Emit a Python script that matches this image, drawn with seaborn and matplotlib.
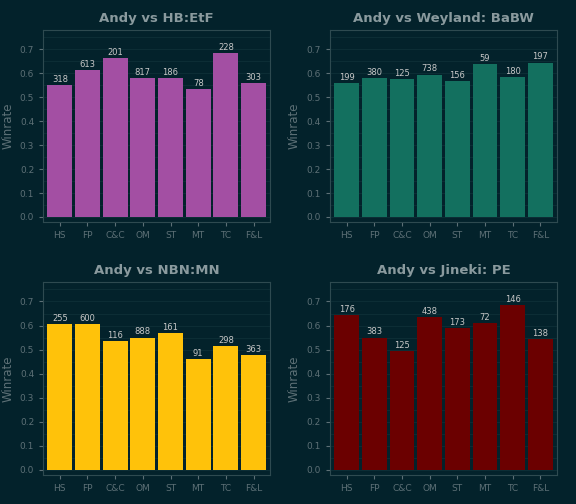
import numpy as np
import pandas as pd
import matplotlib
matplotlib.use("Agg")
from matplotlib import pyplot as plt
import seaborn as sns

factions = ["HS", "FP", "C&C", "OM", "ST", "MT", "TC", "F&L"]
titles = ["Andy vs HB:EtF", "Andy vs Weyland: BaBW", "Andy vs NBN:MN", "Andy vs Jineki: PE"]
colors = ["#a34fa3", "#13705f", "#ffc20a", "#6b0000"]
winrate_hb = [0.55, 0.615, 0.665, 0.58, 0.58, 0.535, 0.685, 0.56]
winrate_wey = [0.56, 0.58, 0.575, 0.595, 0.568, 0.64, 0.585, 0.645]
winrate_nbn = [0.605, 0.605, 0.535, 0.55, 0.568, 0.46, 0.515, 0.478]
winrate_jin = [0.645, 0.55, 0.495, 0.635, 0.59, 0.61, 0.685, 0.545]
games_hb = [318, 613, 201, 817, 186, 78, 228, 303]
games_wey = [199, 380, 125, 738, 156, 59, 180, 197]
games_nbn = [255, 600, 116, 888, 161, 91, 298, 363]
games_jin = [176, 383, 125, 438, 173, 72, 146, 138]

winrates = [winrate_hb, winrate_wey, winrate_nbn, winrate_jin]
games = [games_hb, games_wey, games_nbn, games_jin]

bg = "#03222b"
fg = "#5d7076"
plt.rcParams.update({"figure.facecolor": bg, "axes.facecolor": bg, "savefig.facecolor": bg})

fig = plt.figure(figsize=(5.76, 5.04), dpi=100)
rects = [
    [0.075, 0.56, 0.394, 0.38],
    [0.573, 0.56, 0.394, 0.38],
    [0.075, 0.058, 0.394, 0.382],
    [0.573, 0.058, 0.394, 0.382],
]
for rect, title, col, wr, n in zip(rects, titles, colors, winrates, games):
    ax = fig.add_axes(rect)
    df = pd.DataFrame({"faction": factions, "winrate": wr})
    sns.barplot(data=df, x="faction", y="winrate", color=col, width=0.9, saturation=1, ax=ax)
    for i, (w, g) in enumerate(zip(wr, n)):
        ax.text(i, w + 0.005, str(g), ha="center", va="bottom", fontsize=6, color="#c8c8c8")
    ax.set_ylim(-0.02, 0.78)
    ax.set_xlim(-0.6, 7.6)
    ax.set_yticks(np.arange(0, 0.71, 0.1))
    ax.set_yticks(np.arange(0.05, 0.76, 0.1), minor=True)
    ax.grid(axis="y", which="both", color="#0e3038", linewidth=0.6)
    ax.set_axisbelow(True)
    for s in ax.spines.values():
        s.set_color("#2e4a50")
    ax.tick_params(colors=fg, labelsize=6.5, length=3, which="major")
    ax.tick_params(which="minor", length=0)
    ax.set_xlabel("")
    ax.set_ylabel("Winrate", color=fg, fontsize=8.5)
    ax.set_title(title, color="#8a9a9e", fontsize=9.5, fontweight="bold")

fig.savefig("out.png")
